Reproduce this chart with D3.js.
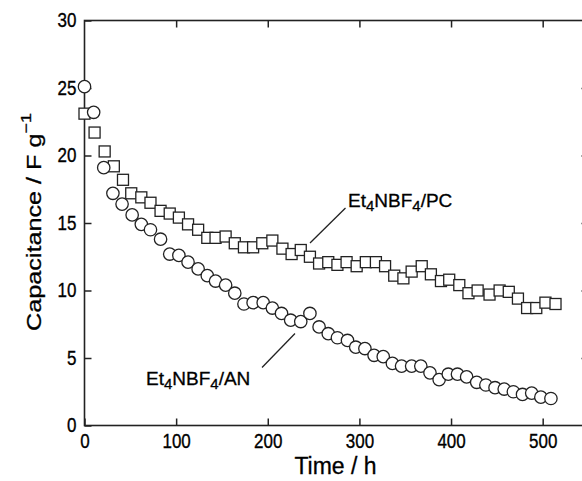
<!DOCTYPE html>
<html>
<head>
<meta charset="utf-8">
<script src="https://cdn.jsdelivr.net/npm/d3@7"></script>
<style>
  body { margin: 0; background: #fff; }
  svg { font-family: "Liberation Sans", Arial, Helvetica, sans-serif; }
  svg text { stroke: #000; stroke-width: 0.3px; }
  .tall { transform-box: fill-box; transform-origin: center; transform: scaleY(1.15); }
  .long { transform-box: fill-box; transform-origin: center; transform: scaleX(1.2); }
</style>
</head>
<body>
<svg id="chart" width="582" height="481"></svg>
<script>
// Et4NBF4/PC (squares)
var timePC = [0, 11, 22, 32, 42, 51, 62, 72, 83, 93, 103, 113, 124, 134, 143, 154, 164, 174, 184, 194,
    205, 216, 226, 236, 246, 256, 266, 276, 286, 297, 307, 318, 328, 338, 348, 357, 368, 378, 389, 398,
    409, 419, 429, 442, 453, 463, 473, 483, 493, 503, 514];
var capPC = [23.1, 21.7, 20.3, 19.2, 18.2, 17.2, 16.9, 16.5, 15.9, 15.7, 15.4, 14.9, 14.5, 13.9, 13.9, 14.0, 13.5, 13.2, 13.2, 13.5,
    13.7, 13.1, 12.7, 13.0, 12.5, 12.0, 12.1, 11.9, 12.1, 11.8, 12.1, 12.1, 11.8, 11.1, 10.9, 11.4, 11.8, 11.2, 10.7, 10.8,
    10.4, 9.8, 10.0, 9.7, 10.0, 9.9, 9.4, 8.7, 8.7, 9.1, 9.0];

// Et4NBF4/AN (circles)
var timeAN = [0, 10, 21, 31, 41, 52, 62, 72, 83, 93, 103, 113, 124, 134, 143, 154, 164, 174, 184, 195,
    205, 215, 225, 236, 246, 256, 266, 276, 287, 296, 306, 316, 326, 336, 346, 357, 367, 377, 387, 397,
    407, 417, 428, 438, 448, 458, 468, 478, 488, 498, 509];
var capAN = [25.1, 23.2, 19.1, 17.2, 16.4, 15.6, 14.9, 14.5, 13.8, 12.7, 12.6, 12.1, 11.6, 11.1, 10.7, 10.4, 9.8, 9.0, 9.1, 9.1,
    8.7, 8.3, 7.8, 7.7, 8.3, 7.3, 6.8, 6.5, 6.3, 5.8, 5.7, 5.2, 5.1, 4.6, 4.4, 4.4, 4.4, 3.9, 3.4, 3.8,
    3.8, 3.6, 3.2, 3.0, 2.8, 2.7, 2.5, 2.3, 2.4, 2.1, 2.0];

var xTicks = [0, 100, 200, 300, 400, 500];
var yTicks = [0, 5, 10, 15, 20, 25, 30];

var svg = d3.select("#chart");

var x = d3.scaleLinear().domain([0, 550]).range([84.5, 588.5]);
var y = d3.scaleLinear().domain([0, 30]).range([425.5, 20.5]);

// frame
svg.append("rect")
    .attr("x", x(0)).attr("y", y(30))
    .attr("width", x(550) - x(0)).attr("height", y(0) - y(30))
    .attr("fill", "none").attr("stroke", "#222").attr("stroke-width", 1.6);

svg.append("g")
    .attr("transform", "translate(0," + y(0) + ")")
    .call(d3.axisBottom(x).tickValues(xTicks).tickSizeInner(-7).tickSizeOuter(0).tickPadding(10));
svg.append("g")
    .attr("transform", "translate(" + x(0) + ",0)")
    .call(d3.axisLeft(y).tickValues(yTicks).tickSizeInner(-7).tickSizeOuter(0).tickPadding(8));
svg.append("g")
    .attr("transform", "translate(0," + y(30) + ")")
    .call(d3.axisTop(x).tickValues(xTicks.slice(1)).tickSizeInner(-7).tickSizeOuter(0).tickFormat(""));
svg.append("g")
    .attr("transform", "translate(" + x(550) + ",0)")
    .call(d3.axisRight(y).tickValues(yTicks.slice(1, -1)).tickSizeInner(-7).tickSizeOuter(0).tickFormat(""));

svg.selectAll(".domain").remove();
svg.selectAll(".tick line").attr("stroke", "#222").attr("stroke-width", 1.5);
svg.selectAll(".tick text")
    .attr("class", "tall")
    .attr("fill", "#000")
    .style("font-size", "17px")
    .style("font-family", "'Liberation Sans', Arial, sans-serif");

// axis titles
svg.append("text")
    .attr("x", x(275) - 1).attr("y", 474)
    .attr("text-anchor", "middle")
    .style("font-size", "23px")
    .attr("fill", "#000")
    .text("Time / h");

var yl = svg.append("g").attr("transform", "translate(41,222) rotate(-90)");
var ylt = yl.append("text")
    .attr("class", "long")
    .attr("text-anchor", "middle")
    .style("font-size", "21px")
    .attr("fill", "#000");
ylt.append("tspan").text("Capacitance / F g");
ylt.append("tspan").attr("dy", -10).style("font-size", "15px").text("\u22121");

// markers
svg.append("g").selectAll("rect")
    .data(timePC)
    .enter().append("rect")
    .attr("x", function(d) { return x(d) - 5.5; })
    .attr("y", function(d, i) { return y(capPC[i]) - 5.5; })
    .attr("width", 11).attr("height", 11)
    .attr("fill", "#fff").attr("stroke", "#222").attr("stroke-width", 1.3);

svg.append("g").selectAll("circle")
    .data(timeAN)
    .enter().append("circle")
    .attr("cx", function(d) { return x(d); })
    .attr("cy", function(d, i) { return y(capAN[i]); })
    .attr("r", 6.2)
    .attr("fill", "#fff").attr("stroke", "#222").attr("stroke-width", 1.3);

// labels with leader lines
function label(tx, ty, name, line) {
    svg.append("line")
        .attr("x1", line[0]).attr("y1", line[1]).attr("x2", line[2]).attr("y2", line[3])
        .attr("stroke", "#222").attr("stroke-width", 1.3);
    var t = svg.append("text")
        .attr("x", tx).attr("y", ty)
        .style("font-size", "19px")
        .attr("fill", "#000");
    t.append("tspan").text("Et");
    t.append("tspan").attr("dy", 4).style("font-size", "15px").text("4");
    t.append("tspan").attr("dy", -4).text("NBF");
    t.append("tspan").attr("dy", 4).style("font-size", "15px").text("4");
    t.append("tspan").attr("dy", -4).text("/" + name);
}
label(348, 207, "PC", [345.5, 208, 310, 243]);
label(146, 385, "AN", [262, 367.5, 295, 333.5]);
</script>
</body>
</html>
